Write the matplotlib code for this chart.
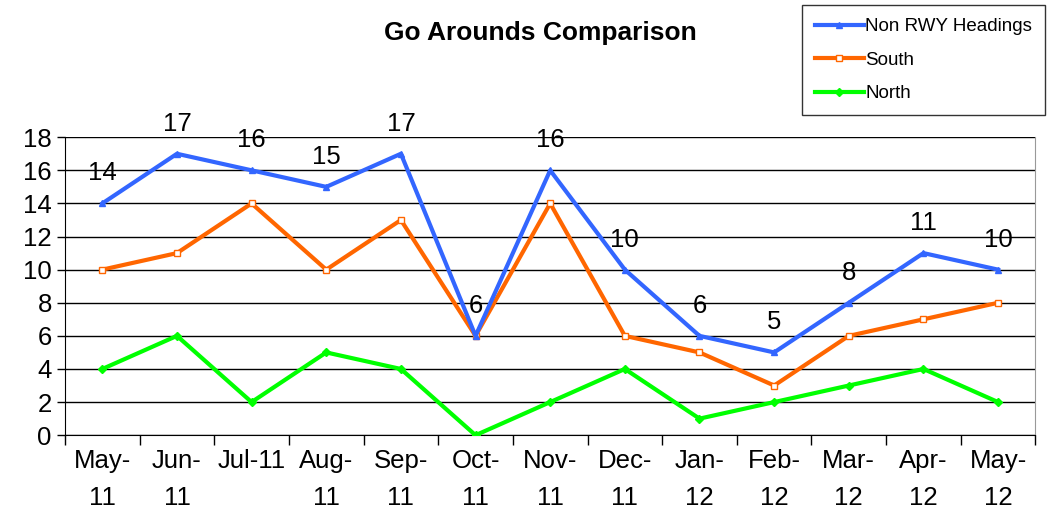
import matplotlib

matplotlib.use("Agg")
import matplotlib.pyplot as plt
from matplotlib.ticker import FixedLocator

plt.rcParams["font.family"] = ["Liberation Sans", "DejaVu Sans"]

months = ["May-\n11", "Jun-\n11", "Jul-11", "Aug-\n11", "Sep-\n11", "Oct-\n11",
          "Nov-\n11", "Dec-\n11", "Jan-\n12", "Feb-\n12", "Mar-\n12", "Apr-\n12",
          "May-\n12"]
non_rwy = [14, 17, 16, 15, 17, 6, 16, 10, 6, 5, 8, 11, 10]
south = [10, 11, 14, 10, 13, 6, 14, 6, 5, 3, 6, 7, 8]
north = [4, 6, 2, 5, 4, 0, 2, 4, 1, 2, 3, 4, 2]

fig = plt.figure(figsize=(10.48, 5.12), dpi=100)
ax = fig.add_axes([0.062, 0.150, 0.926, 0.582])

x = list(range(len(months)))
ax.plot(x, non_rwy, color="#3366FF", lw=3, marker="^", ms=5,
        label="Non RWY Headings", zorder=4)
ax.plot(x, south, color="#FF6600", lw=3, marker="s", ms=5, mfc="white",
        label="South", zorder=3)
ax.plot(x, north, color="#00FF00", lw=3, marker="D", ms=4,
        label="North", zorder=3)

for xi, v in zip(x, non_rwy):
    ax.annotate(str(v), (xi, v), xytext=(0, 13), textcoords="offset points",
                ha="center", va="bottom", fontsize=18.5)

ax.set_xlim(-0.5, len(months) - 0.5)
ax.set_ylim(0, 18)
ax.set_yticks(range(0, 19, 2))
ax.tick_params(axis="y", labelsize=18.5, length=6, direction="out", width=1)
ax.yaxis.grid(True, color="black", lw=1)
ax.set_axisbelow(True)

ax.set_xticks(x)
ax.set_xticklabels(months, fontsize=18.5, va="top", linespacing=1.7)
ax.tick_params(axis="x", which="major", length=0, pad=10)
ax.xaxis.set_minor_locator(FixedLocator([i - 0.5 for i in range(len(months) + 1)]))
ax.tick_params(axis="x", which="minor", length=7, width=1, direction="out")

ax.spines["top"].set_visible(False)
ax.spines["right"].set_color("#999999")
ax.spines["left"].set_color("black")
ax.spines["bottom"].set_color("black")

fig.text(0.516, 0.935, "Go Arounds Comparison", ha="center", va="center",
         fontsize=19, weight="bold")

leg = fig.legend(loc="upper right", bbox_to_anchor=(0.9975, 0.99),
                 fontsize=13.5, frameon=True, fancybox=False,
                 edgecolor="black", handlelength=2.6, labelspacing=0.87,
                 borderpad=0.7, handletextpad=0.1, borderaxespad=0)
leg.get_frame().set_linewidth(1)

fig.savefig("out.png", dpi=100, facecolor="white")
